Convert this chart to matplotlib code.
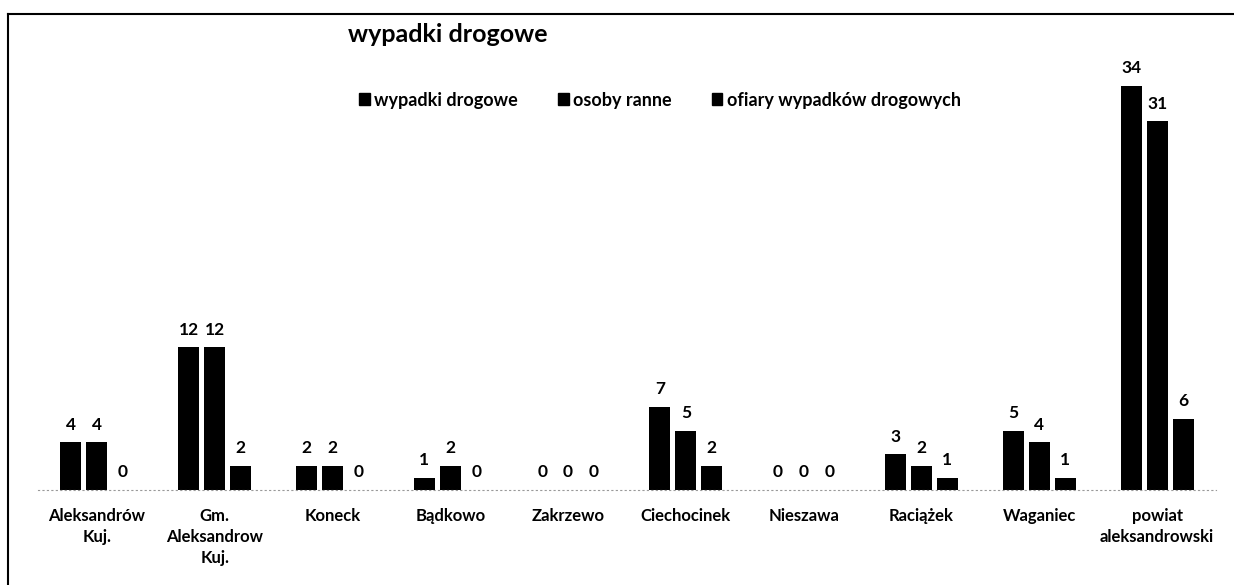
import matplotlib
matplotlib.use("Agg")
import matplotlib.pyplot as plt
from matplotlib.patches import Patch
from matplotlib.lines import Line2D
import numpy as np

categories = ["Aleksandrów\nKuj.", "Gm.\nAleksandrow\nKuj.", "Koneck", "Bądkowo", "Zakrzewo",
              "Ciechocinek", "Nieszawa", "Raciążek", "Waganiec", "powiat\naleksandrowski"]
wypadki = [4, 12, 2, 1, 0, 7, 0, 3, 5, 34]
ranne = [4, 12, 2, 2, 0, 5, 0, 2, 4, 31]
ofiary = [0, 2, 0, 0, 0, 2, 0, 1, 1, 6]
series_names = ["wypadki drogowe", "osoby ranne", "ofiary wypadków drogowych"]
title = "wypadki drogowe"

plt.rcParams['font.family'] = ['Lato', 'DejaVu Sans']
plt.rcParams['font.weight'] = 'bold'

W, H = 1234, 585
fig = plt.figure(figsize=(W / 100, H / 100), dpi=100)
ax = fig.add_axes([38 / W, 1 - 490 / H, (1216 - 38) / W, (490 - 63) / H])

x = np.arange(len(categories))
bw = 0.178
step = 0.22
for i, vals in enumerate([wypadki, ranne, ofiary]):
    bars = ax.bar(x + (i - 1) * step, vals, width=bw, color='black', label=series_names[i])
    for b, v in zip(bars, vals):
        ax.annotate(str(v), (b.get_x() + b.get_width() / 2, v), xytext=(0, 7),
                    textcoords='offset points', ha='center', va='bottom',
                    fontsize=12.5, fontweight='bold')

ax.set_xlim(-0.5, len(categories) - 0.5)
ax.set_ylim(0, 35.9)
ax.set_xticks(x)
ax.set_xticklabels(categories, fontsize=12, fontweight='bold', linespacing=1.4)
ax.tick_params(axis='x', length=0, pad=13)
ax.set_yticks([])
for s in ['top', 'right', 'left']:
    ax.spines[s].set_visible(False)
ax.spines['bottom'].set_linestyle((0, (1, 3)))
ax.spines['bottom'].set_color('#999999')
ax.spines['bottom'].set_linewidth(0.8)

fig.text(348 / W, 1 - 35 / H, title, fontsize=18, fontweight='bold', va='center', ha='left')

handles = [Patch(facecolor='black', edgecolor='black') for _ in series_names]
fig.legend(handles, series_names, loc='center left', bbox_to_anchor=(359 / W, 1 - 100 / H),
           ncol=3, frameon=False, prop={'size': 13, 'weight': 'bold'},
           handlelength=0.6, handleheight=0.6,
           handletextpad=0.25, columnspacing=2.2, borderaxespad=0, borderpad=0)

# frame lines (top and left)
fig.add_artist(Line2D([8 / W, 1.0], [1 - 14 / H, 1 - 14 / H], color='black', lw=1.5,
                      transform=fig.transFigure))
fig.add_artist(Line2D([8 / W, 8 / W], [1 - 14 / H, 0.0], color='black', lw=1.5,
                      transform=fig.transFigure))

fig.savefig("out.png", dpi=100)
